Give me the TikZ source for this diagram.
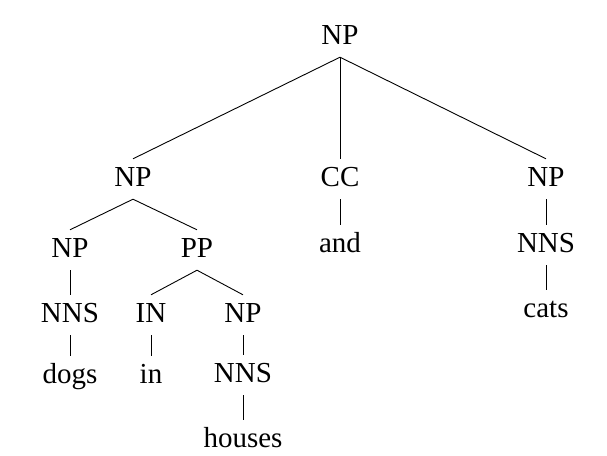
\documentclass[tikz,border=0pt]{standalone}
\usepackage{fontspec}
\setmainfont{Liberation Serif}
\begin{document}
\begin{tikzpicture}[x=1pt,y=-1pt,
  lbl/.style={anchor=base,font=\fontsize{29}{34}\selectfont,text height=20pt,text depth=6pt,inner xsep=0pt,inner ysep=7pt},
  edge/.style={draw=black,line width=0.9pt}]
\useasboundingbox (0,0) rectangle (607,455);
% nodes (x, baseline)
\node[lbl] (root) at (340,44) {NP};
\node[lbl] (np1) at (133,186) {NP};
\node[lbl] (cc) at (340,186) {CC};
\node[lbl] (np2) at (546,186) {NP};
\node[lbl] (np11) at (70,257) {NP};
\node[lbl] (pp) at (197,257) {PP};
\node[lbl] (and) at (340,252) {and};
\node[lbl] (nns2) at (546,252) {NNS};
\node[lbl] (nns11) at (70,322) {NNS};
\node[lbl] (in) at (151,322) {IN};
\node[lbl] (np12) at (243,322) {NP};
\node[lbl] (cats) at (546,317) {cats};
\node[lbl] (dogs) at (70,383) {dogs};
\node[lbl] (inw) at (151,383) {in};
\node[lbl] (nns12) at (243,382) {NNS};
\node[lbl] (houses) at (243,447) {houses};
% edges
\draw[edge] (root.south) -- (np1.north);
\draw[edge] (root.south) -- (cc.north);
\draw[edge] (root.south) -- (np2.north);
\draw[edge] (np1.south) -- (np11.north);
\draw[edge] (np1.south) -- (pp.north);
\draw[edge] (cc.south) -- (and.north);
\draw[edge] (np2.south) -- (nns2.north);
\draw[edge] (nns2.south) -- (cats.north);
\draw[edge] (np11.south) -- (nns11.north);
\draw[edge] (nns11.south) -- (dogs.north);
\draw[edge] (pp.south) -- (in.north);
\draw[edge] (pp.south) -- (np12.north);
\draw[edge] (in.south) -- (inw.north);
\draw[edge] (np12.south) -- (nns12.north);
\draw[edge] (nns12.south) -- (houses.north);
\end{tikzpicture}
\end{document}
